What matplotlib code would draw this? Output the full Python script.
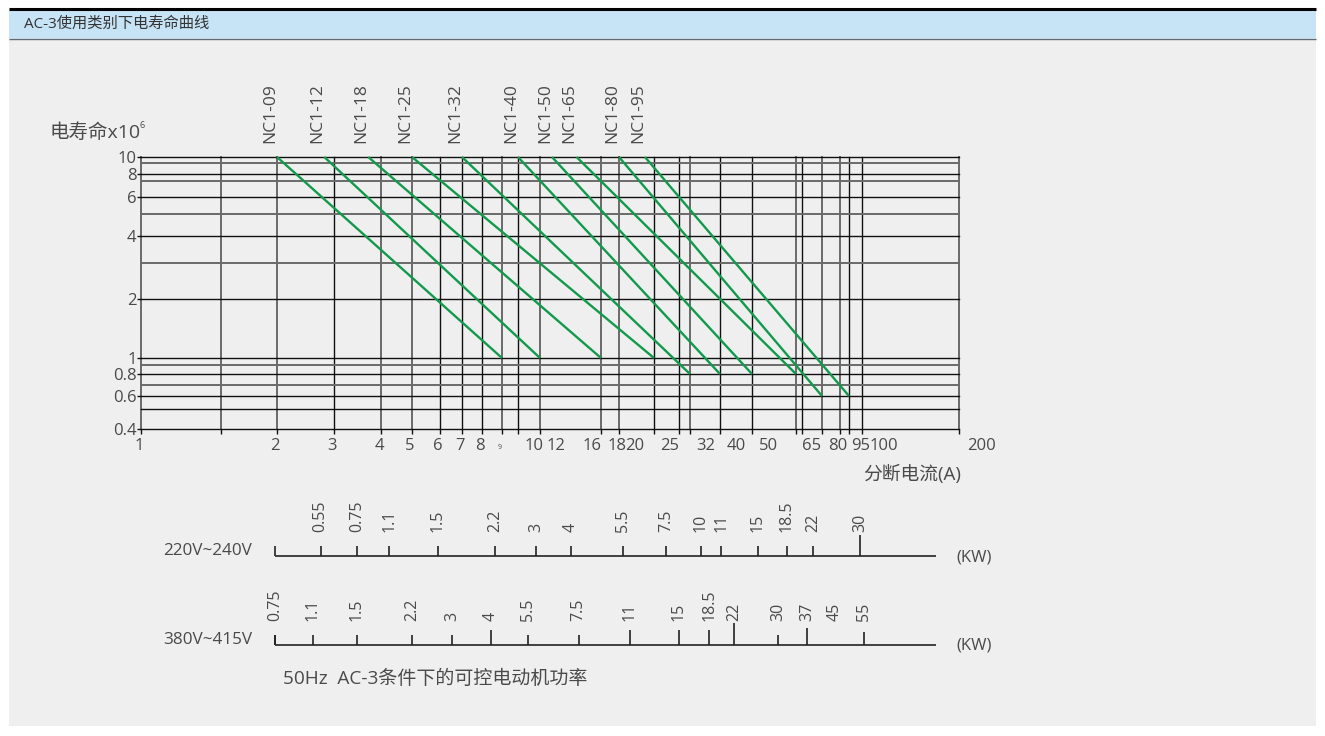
import matplotlib as mpl
mpl.use("Agg")
import matplotlib.pyplot as plt
import numpy as np
from matplotlib.patches import Rectangle
from matplotlib.transforms import ScaledTranslation

plt.rcParams["font.family"] = ["Open Sans", "Noto Sans CJK SC", "DejaVu Sans"]

W, H = 1325, 736

# ---- data ----
title = "AC-3使用类别下电寿命曲线"

# current grid (A) of the hand-drawn sheet and where each line sits (px)
grid_amps = [1, 1.5, 2, 3, 4, 5, 6, 7, 8, 9, 10, 12, 18, 20, 25, 30, 32, 40,
             50, 65, 70, 80, 90, 95, 100, 200]
grid_amps_px = [141, 221, 277, 334, 381, 412, 440, 462, 482, 502, 518, 540,
                601, 619, 654, 679, 690, 720, 752, 796, 802, 822, 840, 849,
                862, 959]
grey_amps = [1, 1.5, 2, 4, 5, 9, 12, 18, 20, 32, 65, 80, 90, 200]

# electrical life grid (x10^6 operations)
grid_life = [0.4, 0.5, 0.6, 0.7, 0.8, 0.9, 1, 2, 3, 4, 5, 6, 7, 8, 9, 10]
grid_life_px = [429, 409, 396, 385, 374, 365, 358, 299, 263, 236, 214, 197,
                181, 174, 163, 157]
life_ticks = [0.4, 0.6, 0.8, 1, 2, 4, 6, 8, 10]
life_tick_labels = ["0.4", "0.6", "0.8", "1", "2", "4", "6", "8", "10"]

amp_labels = ["1", "2", "3", "4", "5", "6", "7", "8", "9", "10", "12", "16",
              "18", "20", "25", "32", "40", "50", "65", "80", "95", "100", "200"]
amp_label_vals = [1, 2, 3, 4, 5, 6, 7, 8, 9, 10, 12, 16, 18, 20, 25, 32, 40,
                  50, 65, 80, 95, 100, 200]

# contactor curves
models = ["NC1-09", "NC1-12", "NC1-18", "NC1-25", "NC1-32", "NC1-40",
          "NC1-50", "NC1-65", "NC1-80", "NC1-95"]
start_amps = [2, 2.8, 3.7, 5, 7, 10, 13, 15.3, 20, 23.6]
start_life = [10, 10, 10, 10, 10, 10, 10, 10, 10, 10]
end_amps = [9, 12, 18, 25, 32, 40, 50, 65, 80, 95]
end_life = [1, 1, 1, 1, 0.8, 0.8, 0.8, 0.8, 0.6, 0.6]

# motor power scales (kW) and the current each power sits at
kw_220 = ["0.55", "0.75", "1.1", "1.5", "2.2", "3", "4", "5.5", "7.5", "10",
          "11", "15", "18.5", "22", "30"]
kw_220_amps = [2.73, 3.45, 4.24, 5.92, 8.64, 11.6, 14.7, 20.5, 27.3, 34.7,
               40.3, 51.8, 61.6, 75.3, 99.2]
kw_380 = ["0.75", "1.1", "1.5", "2.2", "3", "4", "5.5", "7.5", "11", "15",
          "18.5", "22", "30", "37", "45", "55"]
kw_380_amps = [1.98, 2.58, 3.45, 5.0, 6.53, 8.44, 10.9, 15.5, 21.4, 30,
               36.9, 44.1, 58.4, 72.4, 87.1, 101.4]
kw_380_untick = ["45"]
kw_row_span = (1.98, 170)

TXT = "#4a4a4a"
GREEN = "#129a4c"


def knot_scale(values, px, flip=False):
    lv = np.log10(np.asarray(values, float))
    p = np.asarray(px, float)
    if flip:
        p = -p
    # linear extension beyond the outer knots
    s0 = (p[1] - p[0]) / (lv[1] - lv[0])
    s1 = (p[-1] - p[-2]) / (lv[-1] - lv[-2])
    lv = np.concatenate([[lv[0] - 20], lv, [lv[-1] + 20]])
    p = np.concatenate([[p[0] - 20 * s0], p, [p[-1] + 20 * s1]])

    def fwd(v):
        v = np.asarray(v, float)
        lg = np.log10(np.where(v > 0, v, 1e-20))
        return np.interp(lg, lv, p)

    def inv(q):
        return 10 ** np.interp(np.asarray(q, float), p, lv)

    return fwd, inv


x_funcs = knot_scale(grid_amps, grid_amps_px)
y_funcs = knot_scale(grid_life, grid_life_px, flip=True)


def fx(px):
    return px / W


def fy(py):
    return 1 - py / H


fig = plt.figure(figsize=(W / 100, H / 100), dpi=100)
fig.patch.set_facecolor("white")

# page background and header band
bg = fig.add_axes([0, 0, 1, 1])
bg.set_xlim(0, W)
bg.set_ylim(H, 0)
bg.axis("off")
bg.add_patch(Rectangle((9, 10), 1307, 716, fc="#efefef", ec="none"))
bg.add_patch(Rectangle((9, 10), 1307, 28, fc="#c6e4f6", ec="none"))
bg.plot([9, 1316], [9, 9], color="black", lw=2.2, solid_capstyle="butt")
bg.plot([9, 1316], [38.5, 38.5], color="#5b6d7a", lw=1.0, solid_capstyle="butt")
bg.text(24, 24.5, title, fontsize=11, color="#333333", va="center", ha="left")

# ---- main life chart ----
ax = fig.add_axes([fx(141), fy(429), fx(959 - 141), (429 - 157) / H])
ax.patch.set_alpha(0)
ax.set_xscale("function", functions=x_funcs)
ax.set_yscale("function", functions=y_funcs)
ax.set_xlim(1, 200)
ax.set_ylim(0.4, 10)
for sp in ax.spines.values():
    sp.set_visible(False)

for v in grid_amps:
    grey = v in grey_amps
    ax.axvline(v, color="#6a6a6a" if grey else "#111111", lw=1.4 if grey else 1.0,
               clip_on=False, zorder=1)
for v in grid_life:
    grey = v not in life_ticks and v != 0.5
    ax.axhline(v, color="#6a6a6a" if grey else "#111111", lw=1.4 if grey else 1.0,
               clip_on=False, zorder=1)

ax.set_xticks(grid_amps)
ax.set_xticklabels([])
ax.tick_params(axis="x", length=3.8, width=1.0, color="#111111", direction="out")
ax.set_xticks([], minor=True)
ax.set_yticks(life_ticks)
ax.set_yticklabels(life_tick_labels)
ax.set_yticks([], minor=True)
ax.tick_params(axis="y", length=3.0, width=1.0, pad=0.3, color="#111111",
               labelsize=12, labelcolor=TXT)

# current labels along the bottom (drawn slightly shifted, as on the sheet)
xt = ax.get_xaxis_transform()
label_shift = {16: 9, 95: 12, 100: 22, 200: 22}
for lbl, v in zip(amp_labels, amp_label_vals):
    dx = label_shift.get(v, -2 if v < 10 else 16)
    size = 12
    dy = -9
    if lbl == "9":
        size, dy = 5, -15
    off = ScaledTranslation(dx / 100, dy / 100, fig.dpi_scale_trans)
    ax.text(v, 0, lbl, transform=xt + off, ha="center", va="top",
            fontsize=size, color=TXT)

for name, s, sl, e, el in zip(models, start_amps, start_life, end_amps, end_life):
    ax.plot([s, e], [sl, el], color=GREEN, lw=1.7, clip_on=False, zorder=3,
            solid_capstyle="butt")
    ax.annotate(name, (s, sl), xytext=(-7, 14), textcoords="offset pixels",
                rotation=90, ha="center", va="bottom", fontsize=12.5, color=TXT)

fig.text(fx(50), fy(133), "电寿命x10", fontsize=14, color=TXT, ha="left", va="center")
fig.text(fx(140), fy(126), "6", fontsize=6.5, color=TXT, ha="left", va="center")
fig.text(fx(912), fy(474), "分断电流(A)", fontsize=13.5, color=TXT, ha="center",
         va="center")


# ---- motor power rows ----
def kw_row(base_py, volt, kws, amps, untick, long_ticks):
    rax = fig.add_axes([fx(141), fy(base_py), fx(959 - 141), 40 / H])
    rax.set_xscale("function", functions=x_funcs)
    rax.set_xlim(1, 200)
    rax.set_ylim(0, 40)
    rax.axis("off")
    rax.plot(kw_row_span, [0, 0], color="#333333", lw=1.3, clip_on=False,
             solid_capstyle="butt")
    rax.vlines(kw_row_span[0], 0, 10, color="#333333", lw=1.3)
    for k, a in zip(kws, amps):
        if k not in untick:
            rax.vlines(a, 0, long_ticks.get(k, 10), color="#222222", lw=1.2)
        rax.text(a, 24, k, rotation=90, ha="center", va="bottom",
                 fontsize=11.5, color=TXT)
    fig.text(fx(208), fy(base_py - 5), volt, fontsize=12.3, color=TXT,
             ha="center", va="center")
    fig.text(fx(974), fy(base_py + 1), "(KW)", fontsize=12, color=TXT,
             ha="center", va="center")


kw_row(556, "220V~240V", kw_220, kw_220_amps, [], {"30": 21})
kw_row(645, "380V~415V", kw_380, kw_380_amps, kw_380_untick,
       {"4": 15, "11": 15, "15": 15, "18.5": 15, "22": 22, "37": 17, "55": 13})

fig.text(fx(283), fy(679), "50Hz  AC-3条件下的可控电动机功率", fontsize=13.7,
         color=TXT, ha="left", va="center")

fig.savefig("out.png", dpi=100, facecolor=fig.get_facecolor())
